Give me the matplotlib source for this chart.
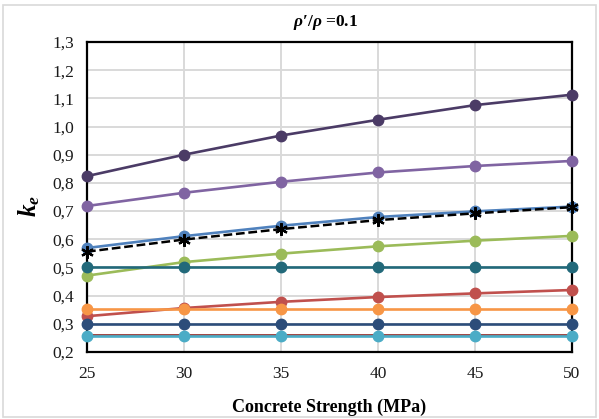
import matplotlib
matplotlib.use("Agg")
import matplotlib.pyplot as plt
from matplotlib.patches import Rectangle
from matplotlib.ticker import FuncFormatter

plt.rcParams['font.family'] = ['Liberation Serif', 'DejaVu Serif']
plt.rcParams['mathtext.fontset'] = 'custom'
plt.rcParams['mathtext.rm'] = 'Liberation Serif:bold'
plt.rcParams['mathtext.it'] = 'Liberation Serif:italic:bold'
plt.rcParams['mathtext.bf'] = 'Liberation Serif:bold'

strength = [25, 30, 35, 40, 45, 50]

ke_dark_purple = [0.824, 0.900, 0.968, 1.024, 1.076, 1.113]
ke_purple = [0.718, 0.765, 0.804, 0.837, 0.860, 0.878]
ke_blue = [0.569, 0.611, 0.648, 0.679, 0.699, 0.716]
ke_code = [0.556, 0.599, 0.636, 0.668, 0.692, 0.714]
ke_green = [0.471, 0.519, 0.549, 0.575, 0.595, 0.612]
ke_teal = [0.50, 0.50, 0.50, 0.50, 0.50, 0.50]
ke_red = [0.327, 0.356, 0.378, 0.395, 0.408, 0.420]
ke_orange = [0.352, 0.352, 0.352, 0.352, 0.352, 0.352]
ke_navy = [0.301, 0.301, 0.301, 0.301, 0.301, 0.301]
ke_maroon = [0.262, 0.262, 0.262, 0.262, 0.262, 0.262]
ke_cyan = [0.256, 0.256, 0.256, 0.256, 0.256, 0.256]

y_ticks = [0.2, 0.3, 0.4, 0.5, 0.6, 0.7, 0.8, 0.9, 1.0, 1.1, 1.2, 1.3]

fig = plt.figure(figsize=(5.99, 4.19), dpi=100)
ax = fig.add_axes([0.1452, 0.1599, 0.8098, 0.7399])

# frame around the whole chart
fig.patches.append(Rectangle((0.005, 0.005), 0.99, 0.982, transform=fig.transFigure,
                             fill=False, edgecolor='#d9d9d9', linewidth=1.2))

series = [
    (ke_dark_purple, '#4b3b66'),
    (ke_purple, '#8064a2'),
    (ke_green, '#9bbb59'),
    (ke_teal, '#22697a'),
    (ke_red, '#c0504d'),
    (ke_orange, '#f79646'),
    (ke_navy, '#2c4d7a'),
    (ke_maroon, '#953735'),
    (ke_cyan, '#4bacc6'),
    (ke_blue, '#4f81bd'),
]
for vals, col in series:
    lw = 1.3 if col == '#953735' else 1.9
    ms = 0 if col == '#953735' else 7.5
    ax.plot(strength, vals, color=col, lw=lw, marker='o', ms=ms, zorder=3,
            clip_on=False)

ax.plot(strength, ke_code, color='black', lw=1.8, ls=(0, (3.5, 1.5)),
        marker=(6, 2, 0), ms=9, mew=1.6, zorder=4, clip_on=False)

ax.set_xlim(25, 50)
ax.set_ylim(0.2, 1.3)
ax.set_xticks(strength)
ax.set_yticks(y_ticks)
ax.yaxis.set_major_formatter(FuncFormatter(lambda v, p: f'{v:.1f}'.replace('.', ',')))
ax.tick_params(length=0, labelsize=12.5, colors='#1a1a1a', pad=9)
ax.tick_params(axis='x', pad=10)
ax.grid(True, color='#d9d9d9', lw=1.4, zorder=0)
ax.set_axisbelow(True)
for s in ax.spines.values():
    s.set_linewidth(1.6)
    s.set_color('black')

ax.set_xlabel('Concrete Strength (MPa)', fontsize=13, fontweight='bold', labelpad=12)
ax.set_ylabel(r'$k_e$', fontsize=18, rotation=90)
ax.yaxis.set_label_coords(-0.092, 0.47)
fig.text(0.543, 0.947, r'$\rho\prime/\rho$ =0.1', fontsize=12.5, fontweight='bold',
         ha='center', va='center')

fig.savefig('out.png', dpi=100)
